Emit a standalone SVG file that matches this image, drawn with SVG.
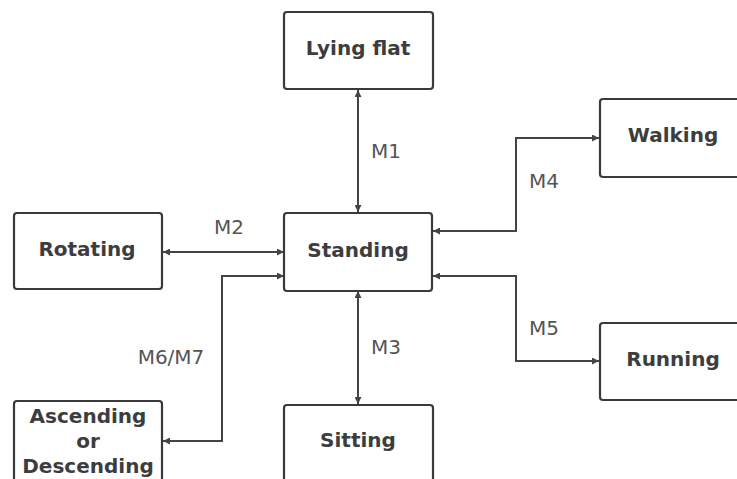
<svg xmlns="http://www.w3.org/2000/svg" width="737" height="479" viewBox="0 0 737 479">
<style>
.box{fill:#fff;stroke:#3a3a3a;stroke-width:2.2}
.lbl{font-family:"DejaVu Sans",sans-serif;font-weight:bold;font-size:20px;fill:#3d3d3d;text-anchor:middle}
.m{font-family:"DejaVu Sans",sans-serif;font-size:20px;fill:#555;text-anchor:middle}
.c{fill:none;stroke:#444;stroke-width:2}
</style>
<defs>
<marker id="ah" viewBox="0 0 10 10" refX="10" refY="5" markerWidth="8" markerHeight="7" markerUnits="userSpaceOnUse" orient="auto-start-reverse">
<path d="M0,0 L10,5 L0,10 z" fill="#444"/>
</marker>
</defs>
<rect width="737" height="479" fill="#fff"/>
<g id="connectors">
<path class="c" d="M358,90 V212" marker-start="url(#ah)" marker-end="url(#ah)"/>
<text class="m" x="386" y="158">M1</text>
<path class="c" d="M163,252 H284" marker-start="url(#ah)" marker-end="url(#ah)"/>
<text class="m" x="229" y="234">M2</text>
<path class="c" d="M358,291 V404" marker-start="url(#ah)" marker-end="url(#ah)"/>
<text class="m" x="386" y="354">M3</text>
<path class="c" d="M433,231 H516 V138 H599" marker-start="url(#ah)" marker-end="url(#ah)"/>
<text class="m" x="544" y="188">M4</text>
<path class="c" d="M433,276 H516 V361 H599" marker-start="url(#ah)" marker-end="url(#ah)"/>
<text class="m" x="544" y="335">M5</text>
<path class="c" d="M163,441 H222 V276 H284" marker-start="url(#ah)" marker-end="url(#ah)"/>
<text class="m" x="171" y="364">M6/M7</text>
</g>
<g id="lying"><rect class="box" x="284" y="12" width="149" height="77" rx="3"/><text class="lbl" x="358" y="55">Lying flat</text></g>
<g id="standing"><rect class="box" x="284" y="213" width="148" height="78" rx="3"/><text class="lbl" x="358" y="257">Standing</text></g>
<g id="rotating"><rect class="box" x="14" y="213" width="148" height="76" rx="3"/><text class="lbl" x="87" y="256">Rotating</text></g>
<g id="walking"><rect class="box" x="600" y="99" width="146" height="78" rx="3"/><text class="lbl" x="673" y="142">Walking</text></g>
<g id="running"><rect class="box" x="600" y="323" width="146" height="77" rx="3"/><text class="lbl" x="673" y="366">Running</text></g>
<g id="sitting"><rect class="box" x="284" y="405" width="149" height="90" rx="3"/><text class="lbl" x="358" y="447">Sitting</text></g>
<g id="ascending"><rect class="box" x="14" y="401" width="148" height="95" rx="3"/><text class="lbl" x="88" y="423">Ascending</text><text class="lbl" x="88" y="448">or</text><text class="lbl" x="88" y="473">Descending</text></g>
</svg>
